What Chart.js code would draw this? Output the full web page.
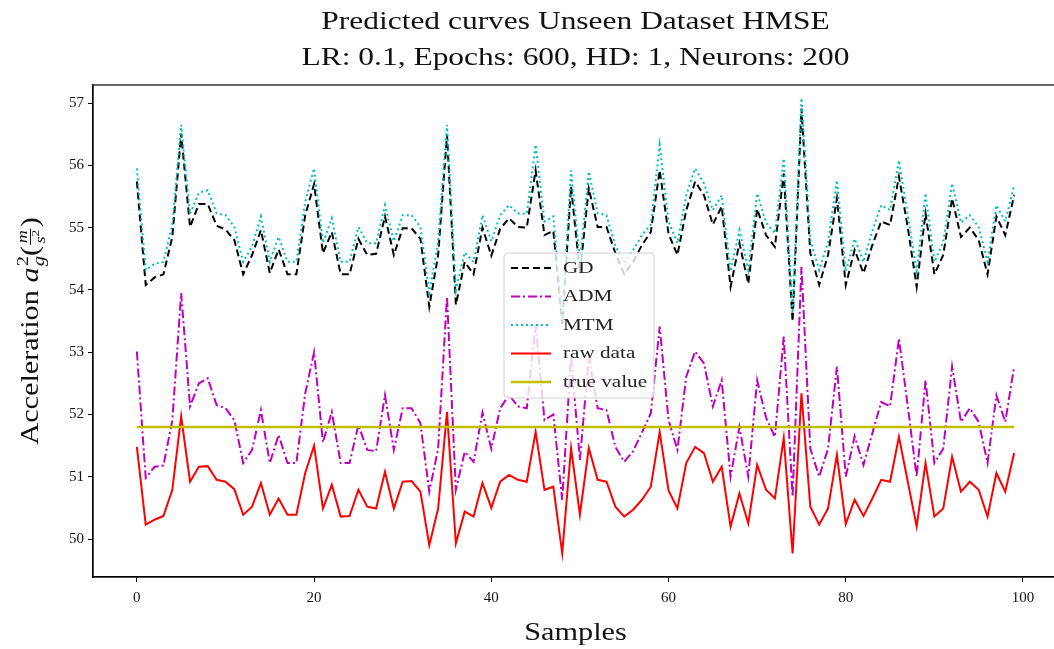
<!DOCTYPE html>
<html><head><meta charset="utf-8">
<script src="https://cdn.jsdelivr.net/npm/chart.js@4"></script>
<style>html,body{margin:0;padding:0;overflow:hidden;background:#fff}canvas{display:block}</style>
</head><body>
<canvas id="c" width="1062" height="649"></canvas>
<script>
// ---- data ----
const titleLines = ['Predicted curves Unseen Dataset HMSE', 'LR: 0.1, Epochs: 600, HD: 1, Neurons: 200'];
const xLabel = 'Samples';
const xTicks = [0, 20, 40, 60, 80, 100];
const yTicks = [50, 51, 52, 53, 54, 55, 56, 57];
const seriesNames = ['GD', 'ADM', 'MTM', 'raw data', 'true value'];

const gd = [55.74,54.08,54.2,54.25,54.85,56.51,55.01,55.38,55.38,55.03,
  54.97,54.8,54.25,54.56,54.96,54.27,54.65,54.25,54.25,55.2,
  55.7,54.59,54.93,54.25,54.25,54.82,54.56,54.58,55.18,54.56,
  54.99,54.99,54.82,53.73,54.56,56.49,53.76,54.45,54.25,55.0,
  54.55,54.98,55.15,55.01,55.0,55.92,54.88,54.95,53.45,55.66,
  54.27,55.63,55.01,55.01,54.59,54.25,54.45,54.72,54.93,55.92,
  54.9,54.56,55.28,55.74,55.52,55.05,55.34,54.05,54.75,54.1,
  55.3,54.88,54.69,55.87,53.49,56.91,54.59,54.08,54.56,55.47,
  54.08,54.64,54.27,54.72,55.1,55.04,55.82,55.0,54.05,55.23,
  54.25,54.56,55.47,54.85,55.0,54.8,54.25,55.18,54.88,55.52];
const adm = [53.01,50.98,51.16,51.18,51.9,53.95,52.13,52.5,52.58,52.15,
  52.1,51.91,51.22,51.43,52.07,51.22,51.67,51.22,51.22,52.34,
  53.0,51.55,52.04,51.22,51.22,51.83,51.43,51.41,52.31,51.43,
  52.1,52.1,51.86,50.76,51.45,53.89,50.79,51.4,51.24,52.03,
  51.45,52.1,52.31,52.13,52.1,53.44,51.91,52.0,50.63,52.93,
  51.27,52.93,52.1,52.07,51.48,51.24,51.41,51.71,52.02,53.41,
  51.91,51.43,52.61,53.01,52.82,52.13,52.55,51.0,51.8,51.0,
  52.55,51.95,51.64,53.25,50.68,54.37,51.45,51.0,51.45,52.77,
  51.0,51.65,51.19,51.7,52.2,52.13,53.22,52.13,51.0,52.55,
  51.22,51.45,52.77,51.88,52.1,51.88,51.22,52.31,51.88,52.77];
const mtm = [55.95,54.32,54.42,54.45,55.05,56.65,55.22,55.56,55.6,55.23,
  55.2,55.01,54.45,54.7,55.18,54.45,54.85,54.45,54.45,55.42,
  55.95,54.75,55.15,54.45,54.45,55.01,54.75,54.75,55.36,54.78,
  55.2,55.2,55.01,53.95,54.78,56.65,54.0,54.6,54.45,55.2,
  54.78,55.2,55.36,55.23,55.22,56.33,55.1,55.18,53.55,55.92,
  54.45,55.9,55.23,55.2,54.7,54.45,54.64,54.88,55.05,56.33,
  55.1,54.75,55.52,55.95,55.71,55.28,55.52,54.3,54.96,54.32,
  55.55,55.08,54.91,56.11,53.63,57.08,54.8,54.32,54.77,55.76,
  54.3,54.82,54.45,54.95,55.36,55.28,56.08,55.2,54.3,55.55,
  54.45,54.77,55.71,55.08,55.2,55.01,54.45,55.36,55.1,55.68];
const rawData = [51.48,50.23,50.31,50.37,50.79,51.97,50.92,51.16,51.17,50.95,
  50.92,50.8,50.39,50.52,50.9,50.39,50.65,50.39,50.39,51.06,
  51.5,50.49,50.87,50.36,50.37,50.79,50.52,50.49,51.08,50.49,
  50.92,50.93,50.76,49.9,50.49,52.04,49.93,50.44,50.36,50.9,
  50.5,50.92,51.03,50.95,50.92,51.72,50.79,50.84,49.77,51.46,
  50.39,51.46,50.95,50.92,50.52,50.36,50.47,50.63,50.84,51.72,
  50.78,50.49,51.22,51.48,51.38,50.92,51.16,50.2,50.73,50.25,
  51.19,50.79,50.65,51.62,49.77,52.34,50.52,50.23,50.49,51.35,
  50.24,50.63,50.37,50.65,50.95,50.92,51.64,50.92,50.2,51.22,
  50.36,50.49,51.32,50.76,50.92,50.79,50.36,51.06,50.76,51.38];
const trueValue = 51.8;
const samples = rawData.map((_, i) => i); // sample index 0..99

// ---- chart ----
const FONT = "'Liberation Serif', 'DejaVu Serif', serif";
const SX = 1.21; // horizontal stretch to mimic the wider Computer Modern face
const pts = arr => arr.map((v, i) => ({x: samples[i], y: v}));

function wideText(ctx, text, x, y, align) {
  ctx.save();
  ctx.translate(x, y);
  ctx.scale(SX, 1);
  ctx.textAlign = align || 'left';
  ctx.fillText(text, 0, 0);
  ctx.restore();
}

const framePlugin = {
  id: 'frame',
  afterDatasetsDraw(chart) {
    const {ctx, chartArea: a} = chart;
    ctx.save();
    ctx.strokeStyle = '#000'; ctx.lineWidth = 1.2;
    ctx.strokeRect(a.left, a.top, a.right - a.left, a.bottom - a.top);
    ctx.restore();
  }
};

const legendPlugin = {
  id: 'boxLegend',
  afterDatasetsDraw(chart) {
    const {ctx} = chart;
    const x0 = 504, y0 = 253, w = 150, h = 145, r = 4;
    ctx.save();
    ctx.beginPath();
    ctx.roundRect(x0, y0, w, h, r);
    ctx.fillStyle = 'rgba(255,255,255,0.8)';
    ctx.fill();
    ctx.strokeStyle = '#d0d0d0'; ctx.lineWidth = 1;
    ctx.stroke();
    chart.data.datasets.forEach((ds, i) => {
      const cy = y0 + 15 + i * 28.5;
      ctx.beginPath();
      ctx.setLineDash(ds.borderDash || []);
      ctx.strokeStyle = ds.borderColor;
      ctx.lineWidth = ds.borderWidth;
      ctx.moveTo(511, cy); ctx.lineTo(551, cy);
      ctx.stroke();
      ctx.setLineDash([]);
      ctx.fillStyle = '#222';
      ctx.font = `17.5px ${FONT}`;
      ctx.textBaseline = 'middle';
      wideText(ctx, ds.label, 563, cy, 'left');
    });
    ctx.restore();
  }
};

const textPlugin = {
  id: 'texts',
  afterDraw(chart) {
    const {ctx, chartArea: a} = chart;
    const cx = (a.left + a.right) / 2;
    ctx.save();
    ctx.fillStyle = '#111';
    ctx.textBaseline = 'alphabetic';
    ctx.font = `26px ${FONT}`;
    wideText(ctx, titleLines[0], cx, 29, 'center');
    wideText(ctx, titleLines[1], cx, 65, 'center');
    ctx.font = `25px ${FONT}`;
    wideText(ctx, xLabel, cx, 640, 'center');

    // y label with math: Acceleration a_g^2 (m / s^2)
    const cy = (a.top + a.bottom) / 2;
    ctx.translate(38, cy);
    ctx.rotate(-Math.PI / 2);
    ctx.scale(SX, 1);
    ctx.textAlign = 'left';
    const big = `25px ${FONT}`, bigI = `italic 25px ${FONT}`, sm = `17px ${FONT}`, smI = `italic 17px ${FONT}`, fr = `italic 15px ${FONT}`, frS = `11px ${FONT}`;
    ctx.font = big; const w1 = ctx.measureText('Acceleration ').width;
    ctx.font = bigI; const wA = ctx.measureText('a').width;
    ctx.font = sm; const w2 = ctx.measureText('2').width;
    ctx.font = smI; const wg = ctx.measureText('g').width;
    const wSup = Math.max(w2, wg) + 1;
    ctx.font = big; const wP = ctx.measureText('(').width;
    ctx.font = fr; const wm = ctx.measureText('m').width; const ws = ctx.measureText('s').width;
    ctx.font = frS; const w22 = ctx.measureText('2').width;
    const wFrac = Math.max(wm, ws + w22) + 4;
    const total = w1 + wA + wSup + wP + wFrac + wP;
    let x = -total / 2;
    ctx.font = big; ctx.fillText('Acceleration ', x, 0); x += w1;
    ctx.font = bigI; ctx.fillText('a', x, 0); x += wA;
    ctx.font = sm; ctx.fillText('2', x + 1, -10);
    ctx.font = smI; ctx.fillText('g', x + 1, 6); x += wSup;
    ctx.font = big; ctx.fillText('(', x, 0); x += wP;
    const fx = x + wFrac / 2;
    ctx.font = fr; ctx.textAlign = 'center';
    ctx.fillText('m', fx, -11);
    ctx.fillText('s', fx - w22 / 2, 7);
    ctx.font = frS; ctx.textAlign = 'left';
    ctx.fillText('2', fx - w22 / 2 + ws / 2, 1);
    ctx.fillRect(x + 1, -8, wFrac - 2, 1);
    x += wFrac;
    ctx.font = big; ctx.fillText(')', x, 0);
    ctx.restore();
  }
};

new Chart(document.getElementById('c'), {
  type: 'line',
  data: {
    datasets: [
      {label: seriesNames[0], data: pts(gd), borderColor: '#000000', borderDash: [7, 4], borderWidth: 2, order: 5},
      {label: seriesNames[1], data: pts(adm), borderColor: '#bf00bf', borderDash: [9, 3, 2, 3], borderWidth: 2, order: 4},
      {label: seriesNames[2], data: pts(mtm), borderColor: '#00bfbf', borderDash: [2, 3], borderWidth: 2, order: 3},
      {label: seriesNames[3], data: pts(rawData), borderColor: '#ff0000', borderWidth: 2, order: 2},
      {label: seriesNames[4], data: [{x: samples[0], y: trueValue}, {x: samples[samples.length - 1], y: trueValue}], borderColor: '#bfbf00', borderWidth: 2.5, order: 1}
    ]
  },
  options: {
    responsive: false, animation: false, devicePixelRatio: 1,
    layout: {padding: {left: 0, right: 4, top: 85, bottom: 0}},
    elements: {point: {radius: 0}, line: {tension: 0, fill: false}},
    plugins: {legend: {display: false}, title: {display: false}, tooltip: {enabled: false}},
    scales: {
      x: {
        type: 'linear', min: -4.95, max: 103.95,
        afterBuildTicks: s => { s.ticks = xTicks.map(v => ({value: v})); },
        afterFit: s => { s.height = 72; },
        grid: {drawOnChartArea: false, drawTicks: true, tickLength: 5, color: '#000', tickWidth: 1},
        border: {display: true, color: '#000', width: 1.2},
        ticks: {font: {family: FONT, size: 15}, color: '#111', padding: 7, maxRotation: 0, callback: v => String(v)}
      },
      y: {
        type: 'linear', min: 49.39, max: 57.29,
        afterBuildTicks: s => { s.ticks = yTicks.map(v => ({value: v})); },
        afterFit: s => { s.width = 93; },
        grid: {drawOnChartArea: false, drawTicks: true, tickLength: 5, color: '#000', tickWidth: 1},
        border: {display: true, color: '#000', width: 1.2},
        ticks: {font: {family: FONT, size: 15}, color: '#111', padding: 4, callback: v => String(v)}
      }
    }
  },
  plugins: [framePlugin, legendPlugin, textPlugin]
});
</script>
</body></html>
